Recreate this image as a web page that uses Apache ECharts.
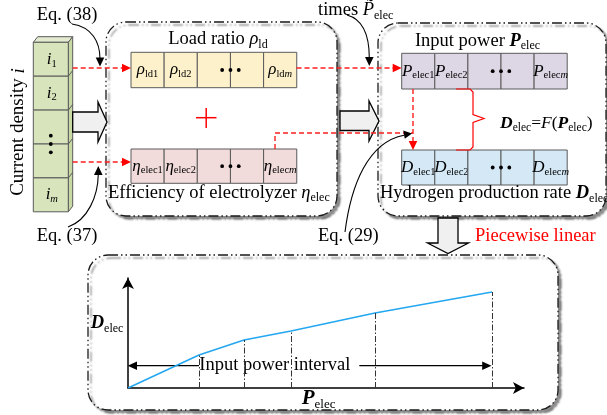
<!DOCTYPE html>
<html>
<head>
<meta charset="utf-8">
<script src="https://cdn.jsdelivr.net/npm/echarts@6/dist/echarts.min.js"></script>
<style>
  html, body { margin: 0; padding: 0; background: #fff; }
  #c { width: 607px; height: 415px; }
</style>
</head>
<body>
<div id="c"></div>
<script>
// Piecewise-linear approximation D_elec = F(P_elec): breakpoints
const powerBreaks = [0, 71, 116, 163, 247, 364];
const rateBreaks = [0, 33, 48, 57, 75, 96];

// Cell contents: [symbol, subscript name, index]; null marks an ellipsis cell
const densityCells = [['i', '', '1'], ['i', '', '2'], null, null, ['i', '', 'm']];
const loadCells = [['ρ', 'ld', '1'], ['ρ', 'ld', '2'], null, null, ['ρ', 'ld', 'm']];
const effCells = [['η', 'elec', '1'], ['η', 'elec', '2'], null, null, ['η', 'elec', 'm']];
const powerCells = [['P', 'elec', '1'], ['P', 'elec', '2'], null, null, ['P', 'elec', 'm']];
const rateCells = [['D', 'elec', '1'], ['D', 'elec', '2'], null, null, ['D', 'elec', 'm']];

const SERIF = '"Liberation Serif", "Times New Roman", serif';

// rich-text style set with subscripts dropped slightly below the baseline
function richSet(size, sub) {
  const L = Math.round(size * 1.2);
  const h = L - 2 * (0.455 * size - 0.305 * sub);
  const base = { fontFamily: SERIF, fill: '#000', lineHeight: L, fontSize: size, verticalAlign: 'middle' };
  const subBase = { fontFamily: SERIF, fill: '#000', lineHeight: h, fontSize: sub, verticalAlign: 'bottom' };
  return {
    n: { ...base },
    r: { ...base, fill: '#ff0000' },
    i: { ...base, fontStyle: 'italic' },
    b: { ...base, fontStyle: 'italic', fontWeight: 'bold' },
    s: { ...subBase },
    si: { ...subBase, fontStyle: 'italic' }
  };
}
const cellRich = richSet(17, 10.5);
const titleRich = richSet(18.5, 12);
const eqRich = richSet(17.5, 11.5);
const bigRich = richSet(21, 13);

function txt(x, y, text, rich, align, extra) {
  return Object.assign({
    type: 'text', x: x, y: y,
    style: { text: text, rich: rich, align: align || 'left', verticalAlign: 'middle', fontFamily: SERIF, fill: '#000' }
  }, extra || {});
}

function cellLabel(c) {
  const idx = /\d/.test(c[2]) ? 's' : 'si';
  return '{i|' + c[0] + '}' + (c[1] ? '{s|' + c[1] + '}' : '') + '{' + idx + '|' + c[2] + '}';
}

const el = [];

// dashed rounded panels with a soft drop shadow
function panel(x, y, w, h, z) {
  el.push({
    type: 'rect', z: z || 0,
    shape: { x: x, y: y, width: w, height: h, r: 20 },
    style: {
      fill: '#fff', stroke: '#1a1a1a', lineWidth: 1.3, lineDash: [10, 3, 1.5, 3, 1.5, 3],
      shadowBlur: 2, shadowColor: 'rgba(0,0,0,0.45)', shadowOffsetX: 3, shadowOffsetY: 3
    }
  });
}
panel(106, 22, 231, 194);
panel(378, 23, 228, 193);
panel(88, 255, 470, 155, -5);

const cellStroke = { stroke: '#5a5a5a', lineWidth: 1 };

function dots(cx, cy, vertical) {
  [-8.3, 0, 8.3].forEach(function (d) {
    el.push({ type: 'circle', shape: { cx: vertical ? cx : cx + d, cy: vertical ? cy + d : cy, r: 1.9 }, style: { fill: '#000' } });
  });
}

// horizontal row of cells
function hRow(cells, x0, y0, w, h, fill) {
  cells.forEach(function (c, k) {
    el.push({ type: 'rect', shape: { x: x0 + k * w, y: y0, width: w, height: h }, style: { fill: fill, ...cellStroke } });
    if (c) el.push(txt(x0 + k * w + w / 2, y0 + h / 2, cellLabel(c), cellRich, 'center'));
  });
  for (let k = 0; k + 1 < cells.length; k++) {
    if (!cells[k] && !cells[k + 1]) dots(x0 + (k + 1) * w, y0 + h / 2, false);
  }
}

// vertical 3D column of current-density cells
function column(cells, x0, y0, w, h, dx, dy) {
  const n = cells.length, yb = y0 + n * h;
  el.push({ type: 'polygon', shape: { points: [[x0, y0], [x0 + w, y0], [x0 + w + dx, y0 + dy], [x0 + dx, y0 + dy]] }, style: { fill: '#e2ebcf', ...cellStroke } });
  el.push({ type: 'polygon', shape: { points: [[x0 + w, y0], [x0 + w + dx, y0 + dy], [x0 + w + dx, yb + dy], [x0 + w, yb]] }, style: { fill: '#c9d9a6', ...cellStroke } });
  cells.forEach(function (c, k) {
    const y = y0 + k * h;
    el.push({ type: 'rect', shape: { x: x0, y: y, width: w, height: h }, style: { fill: '#d8e4bc', ...cellStroke } });
    if (k > 0) el.push({ type: 'line', shape: { x1: x0 + w, y1: y, x2: x0 + w + dx, y2: y + dy }, style: { ...cellStroke } });
    if (c) el.push(txt(x0 + w / 2 + 1, y + h / 2, cellLabel(c), cellRich, 'center'));
  });
  for (let k = 0; k + 1 < cells.length; k++) {
    if (!cells[k] && !cells[k + 1]) dots(x0 + w / 2, y0 + (k + 1) * h, true);
  }
}

column(densityCells, 33.3, 42.3, 35, 33.9, 4.4, -5.6);
hRow(loadCells, 131, 52.3, 33.15, 35.4, '#fdf1cb');
hRow(effCells, 131, 149, 33.15, 34.3, '#f2dcdb');
hRow(powerCells, 401.7, 53.3, 33.1, 35.7, '#ddd6e5');
hRow(rateCells, 401.7, 150, 33.1, 35, '#d4e8f6');

// block arrows
const blockStyle = { fill: '#f0f0f0', stroke: '#000', lineWidth: 1.3 };
el.push({ type: 'polygon', shape: { points: [[72.7, 112], [98, 112], [98, 102], [107, 122], [98, 142], [98, 132], [72.7, 132]] }, style: blockStyle });
el.push({ type: 'polygon', shape: { points: [[340, 111], [369, 111], [369, 101], [379, 121], [369, 141], [369, 130.5], [340, 130.5]] }, style: blockStyle });
el.push({ type: 'polygon', shape: { points: [[438, 218], [458, 218], [458, 243], [468.5, 243], [448, 253.5], [427.5, 243], [438, 243]] }, style: blockStyle });

// red dashed flow lines with arrowheads
const redDash = { stroke: '#ff1f1f', lineWidth: 1.4, lineDash: [5, 3], fill: 'none' };
function headRight(x, y, color) {
  el.push({ type: 'polygon', shape: { points: [[x, y], [x - 9, y - 4.3], [x - 9, y + 4.3]] }, style: { fill: color } });
}
function headDown(x, y, color) {
  el.push({ type: 'polygon', shape: { points: [[x, y], [x - 4.3, y - 9], [x + 4.3, y - 9]] }, style: { fill: color } });
}
el.push({ type: 'line', shape: { x1: 72.7, y1: 68, x2: 123, y2: 68 }, style: redDash });
headRight(131, 68, '#ff0000');
el.push({ type: 'line', shape: { x1: 296.5, y1: 68, x2: 393, y2: 68 }, style: redDash });
headRight(401.7, 68, '#ff0000');
el.push({ type: 'line', shape: { x1: 72.7, y1: 162, x2: 123, y2: 162 }, style: redDash });
headRight(131, 162, '#ff0000');
el.push({ type: 'polyline', shape: { points: [[275, 149], [275, 133], [413, 133]] }, style: redDash });
el.push({ type: 'line', shape: { x1: 413, y1: 89, x2: 413, y2: 142 }, style: redDash });
headDown(413, 150, '#ff0000');

// red plus sign
el.push({ type: 'line', shape: { x1: 196, y1: 117.7, x2: 216.5, y2: 117.7 }, style: { stroke: '#ff0000', lineWidth: 1.5 } });
el.push({ type: 'line', shape: { x1: 206.2, y1: 108, x2: 206.2, y2: 128 }, style: { stroke: '#ff0000', lineWidth: 1.5 } });

// red brace linking power and production rows
el.push({
  type: 'polyline',
  shape: { points: [[456, 89], [470, 89], [473, 92], [473, 114.5], [484, 118.5], [473, 122.5], [473, 147], [470, 150], [456, 150]] },
  style: { stroke: '#ff0000', lineWidth: 1.2, fill: 'none' }
});

// black curved reference arrows
const curveStyle = { stroke: '#000', lineWidth: 1.1, fill: 'none' };
el.push({ type: 'bezierCurve', shape: { x1: 72, y1: 24, cpx1: 92, cpy1: 27, cpx2: 100, cpy2: 42, x2: 100, y2: 59 }, style: curveStyle });
headDown(100, 66.5, '#000');
el.push({ type: 'bezierCurve', shape: { x1: 68, y1: 227, cpx1: 88, cpy1: 220, cpx2: 98, cpy2: 196, x2: 98.3, y2: 174 }, style: curveStyle });
el.push({ type: 'polygon', shape: { points: [[98.3, 166], [94, 175], [102.6, 175]] }, style: { fill: '#000' } });
el.push({ type: 'bezierCurve', shape: { x1: 347, y1: 15, cpx1: 362, cpy1: 19, cpx2: 369.3, cpy2: 34, x2: 369.3, y2: 58 }, style: curveStyle });
headDown(369.3, 66, '#000');
el.push({ type: 'bezierCurve', shape: { x1: 345, y1: 232, cpx1: 351, cpy1: 185, cpx2: 368, cpy2: 142, x2: 404, y2: 135.2 }, style: curveStyle });
el.push({ type: 'polygon', shape: { points: [[412, 133.6], [404.8, 138.8], [403.2, 130.6]] }, style: { fill: '#000' } });

// titles and notes
el.push(txt(18.5, 132, '{n|Current density }{i|i}', richSet(19, 12), 'center', { rotation: Math.PI / 2 }));
el.push(txt(218, 39.5, '{n|Load ratio }{i|ρ}{s|ld}', titleRich, 'center'));
el.push(txt(108, 193, '{n|Efficiency of electrolyzer }{i|η}{s|elec}', titleRich, 'left'));
el.push(txt(477.5, 41, '{n|Input power }{b|P}{s|elec}', titleRich, 'center'));
el.push(txt(380, 193.5, '{n|Hydrogen production rate }{b|D}{s|elec}', titleRich, 'left'));
el.push(txt(318, 10.5, '{n|times }{i|P\u0303}{s|elec}', titleRich, 'left'));
el.push(txt(500, 123.5, '{b|D}{s|elec}{n|=}{i|F}{n|(}{b|P}{s|elec}{n|)}', eqRich, 'left'));
el.push(txt(36.7, 15.2, '{n|Eq. (38)}', titleRich, 'left'));
el.push(txt(36.7, 236, '{n|Eq. (37)}', titleRich, 'left'));
el.push(txt(318, 236, '{n|Eq. (29)}', titleRich, 'left'));
el.push(txt(475, 236, '{r|Piecewise linear}', titleRich, 'left'));

// labels of the piecewise-linear plot
el.push(txt(90.7, 323.5, '{b|D}{s|elec}', titleRich, 'left'));
el.push(txt(301.7, 399, '{b|P}{s|elec}', bigRich, 'left'));
el.push(txt(199.3, 365, '{n|Input power interval}', titleRich, 'left'));
el.push({ type: 'line', shape: { x1: 135, y1: 365.7, x2: 199, y2: 365.7 }, style: { stroke: '#000', lineWidth: 1.3 } });
el.push({ type: 'polygon', shape: { points: [[127.7, 365.7], [137, 361.4], [137, 370]] }, style: { fill: '#000' } });
el.push({ type: 'line', shape: { x1: 359.3, y1: 365.7, x2: 484, y2: 365.7 }, style: { stroke: '#000', lineWidth: 1.3 } });
el.push({ type: 'polygon', shape: { points: [[491.5, 365.7], [482.2, 361.4], [482.2, 370]] }, style: { fill: '#000' } });

const chart = echarts.init(document.getElementById('c'), null, { renderer: 'canvas' });

const axisCommon = {
  type: 'value', min: 0,
  axisLine: { show: true, symbol: ['none', 'arrow'], symbolSize: [9, 11], lineStyle: { color: '#000', width: 1.5 } },
  axisTick: { show: false }, axisLabel: { show: false }, splitLine: { show: false }
};

chart.setOption({
  animation: false,
  grid: { left: 128, top: 278, width: 396, height: 110 },
  xAxis: { ...axisCommon, max: 396 },
  yAxis: { ...axisCommon, max: 110 },
  graphic: { elements: el },
  series: [{
    type: 'line',
    data: powerBreaks.map(function (p, k) { return [p, rateBreaks[k]]; }),
    symbol: 'none',
    z: 3,
    lineStyle: { color: '#22a7f0', width: 1.5 },
    markLine: {
      silent: true, symbol: 'none', label: { show: false },
      lineStyle: { color: '#333', width: 1, type: [6, 2, 1.5, 2] },
      data: powerBreaks.slice(1).map(function (p, k) {
        return [{ coord: [p, 0] }, { coord: [p, rateBreaks[k + 1]] }];
      })
    }
  }]
});
</script>
</body>
</html>
